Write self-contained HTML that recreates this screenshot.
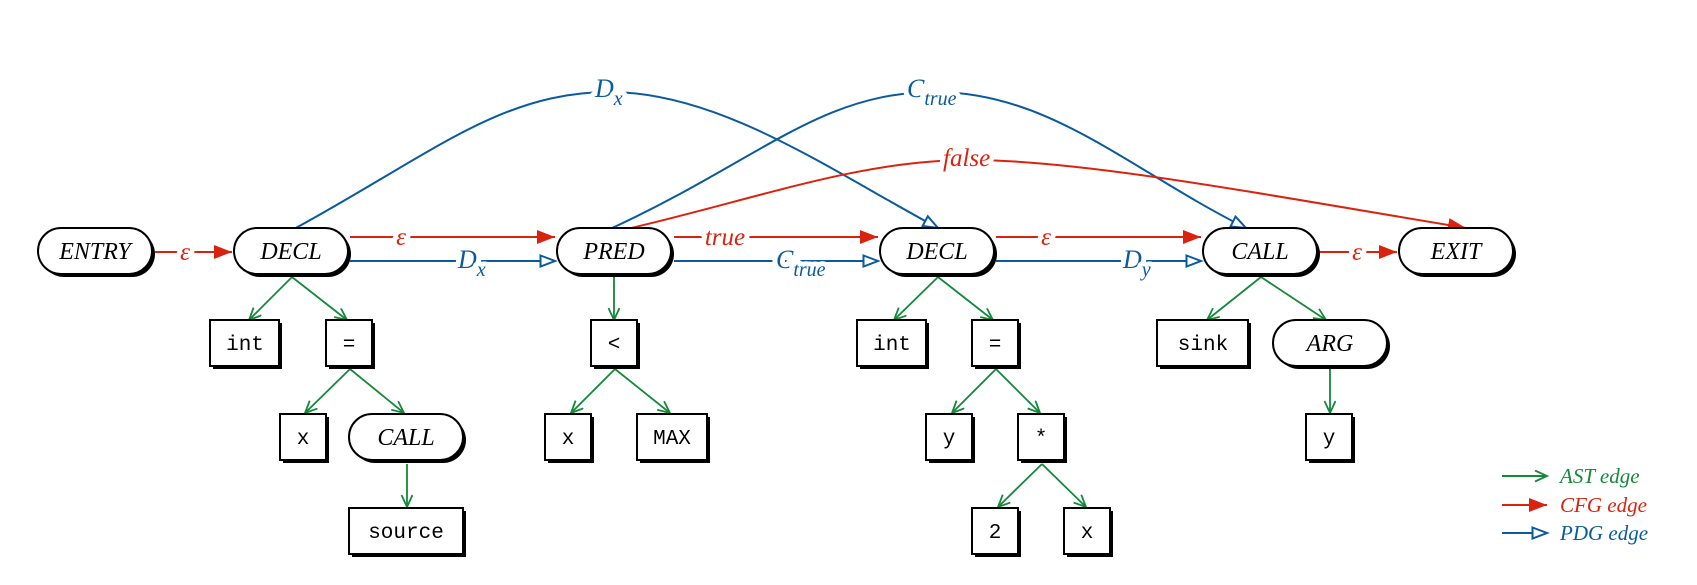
<!DOCTYPE html>
<html><head><meta charset="utf-8"><style>
html,body{margin:0;padding:0;background:#fff;}
svg{display:block;}
.n{font-family:"Liberation Serif",serif;font-style:italic;font-size:24px;fill:#000;}
.m{font-family:"Liberation Mono",monospace;font-size:21px;fill:#000;}
.r{font-family:"Liberation Serif",serif;font-style:italic;font-size:25px;fill:#d9230f;}
.b{font-family:"Liberation Serif",serif;font-style:italic;font-size:26px;fill:#0a5aa0;}
.lg{font-family:"Liberation Serif",serif;font-style:italic;font-size:21px;}
.halo{paint-order:stroke;stroke:#fff;stroke-width:10px;stroke-linejoin:round;}
</style></head><body>
<svg width="1697" height="585" viewBox="0 0 1697 585" xmlns="http://www.w3.org/2000/svg">
<defs>
<marker id="ast" markerUnits="userSpaceOnUse" markerWidth="16" markerHeight="14" refX="13" refY="6" orient="auto"><path d="M1,0.5 L13,6 L1,11.5" fill="none" stroke="#13893a" stroke-width="1.8"/></marker>
<marker id="cfg" markerUnits="userSpaceOnUse" markerWidth="20" markerHeight="16" refX="18" refY="7" orient="auto"><path d="M0,0 L18,7 L0,14 Z" fill="#d9230f"/></marker>
<marker id="pdg" markerUnits="userSpaceOnUse" markerWidth="20" markerHeight="16" refX="16" refY="7" orient="auto"><path d="M1.5,1.5 L16,7 L1.5,12.5 Z" fill="#fff" stroke="#0a5aa0" stroke-width="2"/></marker>
</defs>

<!-- curves -->
<g fill="none" stroke-width="2">
<path d="M294,229 C430,155 500,92 610,92 C720,92 830,170 938,228" stroke="#0a5aa0" marker-end="url(#pdg)"/>
<path d="M610,229 C760,160 820,92 935,92 C1050,92 1130,170 1246,228" stroke="#0a5aa0" marker-end="url(#pdg)"/>
<path d="M627,229 C760,198 860,160 970,160 C1080,160 1250,192 1466,228" stroke="#d9230f" marker-end="url(#cfg)"/>
</g>
<text x="595" y="97" class="b halo">D<tspan font-size="20" dy="8">x</tspan></text>
<text x="907" y="97" class="b halo">C<tspan font-size="20" dy="8">true</tspan></text>
<text x="943" y="166" class="r halo">false</text>

<!-- main row edges -->
<g fill="none" stroke-width="2">
<line x1="155" y1="252" x2="232" y2="252" stroke="#d9230f" marker-end="url(#cfg)"/>
<line x1="350" y1="237" x2="555" y2="237" stroke="#d9230f" marker-end="url(#cfg)"/>
<line x1="350" y1="261" x2="555" y2="261" stroke="#0a5aa0" marker-end="url(#pdg)"/>
<line x1="674" y1="237" x2="878" y2="237" stroke="#d9230f" marker-end="url(#cfg)"/>
<line x1="674" y1="261" x2="878" y2="261" stroke="#0a5aa0" marker-end="url(#pdg)"/>
<line x1="996" y1="237" x2="1201" y2="237" stroke="#d9230f" marker-end="url(#cfg)"/>
<line x1="996" y1="261" x2="1201" y2="261" stroke="#0a5aa0" marker-end="url(#pdg)"/>
<line x1="1319" y1="252" x2="1397" y2="252" stroke="#d9230f" marker-end="url(#cfg)"/>
</g>
<text x="185" y="260" class="r halo" text-anchor="middle">ε</text>
<text x="401" y="245" class="r halo" text-anchor="middle">ε</text>
<text x="458" y="268" class="b halo">D<tspan font-size="20" dy="8">x</tspan></text>
<text x="725" y="245" class="r halo" text-anchor="middle">true</text>
<text x="776" y="268" class="b halo">C<tspan font-size="20" dy="8">true</tspan></text>
<text x="1046" y="245" class="r halo" text-anchor="middle">ε</text>
<text x="1123" y="268" class="b halo">D<tspan font-size="20" dy="8">y</tspan></text>
<text x="1357" y="260" class="r halo" text-anchor="middle">ε</text>

<!-- AST edges -->
<g stroke="#13893a" stroke-width="1.8" fill="none" marker-end="url(#ast)">
<line x1="292" y1="277" x2="249" y2="320"/>
<line x1="292" y1="277" x2="347" y2="320"/>
<line x1="350" y1="369" x2="305" y2="413"/>
<line x1="350" y1="369" x2="404" y2="413"/>
<line x1="407" y1="464" x2="407" y2="507"/>
<line x1="614" y1="277" x2="614" y2="320"/>
<line x1="615" y1="369" x2="571" y2="413"/>
<line x1="615" y1="369" x2="670" y2="413"/>
<line x1="938" y1="277" x2="894" y2="320"/>
<line x1="938" y1="277" x2="993" y2="320"/>
<line x1="996" y1="369" x2="952" y2="413"/>
<line x1="996" y1="369" x2="1040" y2="413"/>
<line x1="1042" y1="464" x2="998" y2="507"/>
<line x1="1042" y1="464" x2="1086" y2="507"/>
<line x1="1261" y1="277" x2="1207" y2="320"/>
<line x1="1261" y1="277" x2="1326" y2="320"/>
<line x1="1330" y1="369" x2="1330" y2="413"/>
</g>

<!-- rounded nodes -->
<g stroke-width="2">
<g transform="translate(38,228)"><rect x="3" y="3" width="114" height="46" rx="23" fill="#000"/><rect width="114" height="46" rx="23" fill="#fff" stroke="#000"/><text x="57" y="31" class="n" text-anchor="middle">ENTRY</text></g>
<g transform="translate(234,228)"><rect x="3" y="3" width="114" height="46" rx="23" fill="#000"/><rect width="114" height="46" rx="23" fill="#fff" stroke="#000"/><text x="57" y="31" class="n" text-anchor="middle">DECL</text></g>
<g transform="translate(557,228)"><rect x="3" y="3" width="114" height="46" rx="23" fill="#000"/><rect width="114" height="46" rx="23" fill="#fff" stroke="#000"/><text x="57" y="31" class="n" text-anchor="middle">PRED</text></g>
<g transform="translate(880,228)"><rect x="3" y="3" width="114" height="46" rx="23" fill="#000"/><rect width="114" height="46" rx="23" fill="#fff" stroke="#000"/><text x="57" y="31" class="n" text-anchor="middle">DECL</text></g>
<g transform="translate(1203,228)"><rect x="3" y="3" width="114" height="46" rx="23" fill="#000"/><rect width="114" height="46" rx="23" fill="#fff" stroke="#000"/><text x="57" y="31" class="n" text-anchor="middle">CALL</text></g>
<g transform="translate(1399,228)"><rect x="3" y="3" width="114" height="46" rx="23" fill="#000"/><rect width="114" height="46" rx="23" fill="#fff" stroke="#000"/><text x="57" y="31" class="n" text-anchor="middle">EXIT</text></g>
<g transform="translate(349,414)"><rect x="3" y="3" width="114" height="46" rx="23" fill="#000"/><rect width="114" height="46" rx="23" fill="#fff" stroke="#000"/><text x="57" y="31" class="n" text-anchor="middle">CALL</text></g>
<g transform="translate(1273,320)"><rect x="3" y="3" width="114" height="46" rx="23" fill="#000"/><rect width="114" height="46" rx="23" fill="#fff" stroke="#000"/><text x="57" y="31" class="n" text-anchor="middle">ARG</text></g>
</g>

<!-- square nodes -->
<g stroke-width="2">
<g transform="translate(210,320)"><rect x="3" y="3" width="69" height="46" fill="#000"/><rect width="69" height="46" fill="#fff" stroke="#000"/><text x="35" y="30" class="m" text-anchor="middle">int</text></g>
<g transform="translate(326,320)"><rect x="3" y="3" width="46" height="46" fill="#000"/><rect width="46" height="46" fill="#fff" stroke="#000"/><text x="23" y="30" class="m" text-anchor="middle">=</text></g>
<g transform="translate(280,414)"><rect x="3" y="3" width="46" height="46" fill="#000"/><rect width="46" height="46" fill="#fff" stroke="#000"/><text x="23" y="30" class="m" text-anchor="middle">x</text></g>
<g transform="translate(349,508)"><rect x="3" y="3" width="114" height="46" fill="#000"/><rect width="114" height="46" fill="#fff" stroke="#000"/><text x="57" y="30" class="m" text-anchor="middle">source</text></g>
<g transform="translate(591,320)"><rect x="3" y="3" width="46" height="46" fill="#000"/><rect width="46" height="46" fill="#fff" stroke="#000"/><text x="23" y="30" class="m" text-anchor="middle">&lt;</text></g>
<g transform="translate(545,414)"><rect x="3" y="3" width="46" height="46" fill="#000"/><rect width="46" height="46" fill="#fff" stroke="#000"/><text x="23" y="30" class="m" text-anchor="middle">x</text></g>
<g transform="translate(637,414)"><rect x="3" y="3" width="70" height="46" fill="#000"/><rect width="70" height="46" fill="#fff" stroke="#000"/><text x="35" y="30" class="m" text-anchor="middle">MAX</text></g>
<g transform="translate(857,320)"><rect x="3" y="3" width="69" height="46" fill="#000"/><rect width="69" height="46" fill="#fff" stroke="#000"/><text x="35" y="30" class="m" text-anchor="middle">int</text></g>
<g transform="translate(972,320)"><rect x="3" y="3" width="46" height="46" fill="#000"/><rect width="46" height="46" fill="#fff" stroke="#000"/><text x="23" y="30" class="m" text-anchor="middle">=</text></g>
<g transform="translate(926,414)"><rect x="3" y="3" width="46" height="46" fill="#000"/><rect width="46" height="46" fill="#fff" stroke="#000"/><text x="23" y="30" class="m" text-anchor="middle">y</text></g>
<g transform="translate(1018,414)"><rect x="3" y="3" width="46" height="46" fill="#000"/><rect width="46" height="46" fill="#fff" stroke="#000"/><text x="23" y="30" class="m" text-anchor="middle">*</text></g>
<g transform="translate(972,508)"><rect x="3" y="3" width="46" height="46" fill="#000"/><rect width="46" height="46" fill="#fff" stroke="#000"/><text x="23" y="30" class="m" text-anchor="middle">2</text></g>
<g transform="translate(1064,508)"><rect x="3" y="3" width="46" height="46" fill="#000"/><rect width="46" height="46" fill="#fff" stroke="#000"/><text x="23" y="30" class="m" text-anchor="middle">x</text></g>
<g transform="translate(1157,320)"><rect x="3" y="3" width="91" height="46" fill="#000"/><rect width="91" height="46" fill="#fff" stroke="#000"/><text x="46" y="30" class="m" text-anchor="middle">sink</text></g>
<g transform="translate(1306,414)"><rect x="3" y="3" width="46" height="46" fill="#000"/><rect width="46" height="46" fill="#fff" stroke="#000"/><text x="23" y="30" class="m" text-anchor="middle">y</text></g>
</g>

<!-- legend -->
<g stroke-width="2" fill="none">
<line x1="1502" y1="476" x2="1547" y2="476" stroke="#13893a" marker-end="url(#ast)"/>
<line x1="1502" y1="505" x2="1547" y2="505" stroke="#d9230f" marker-end="url(#cfg)"/>
<line x1="1502" y1="533" x2="1547" y2="533" stroke="#0a5aa0" marker-end="url(#pdg)"/>
</g>
<text x="1560" y="483" class="lg" fill="#13893a">AST edge</text>
<text x="1560" y="512" class="lg" fill="#d9230f">CFG edge</text>
<text x="1560" y="540" class="lg" fill="#0a5aa0">PDG edge</text>
</svg>
</body></html>
